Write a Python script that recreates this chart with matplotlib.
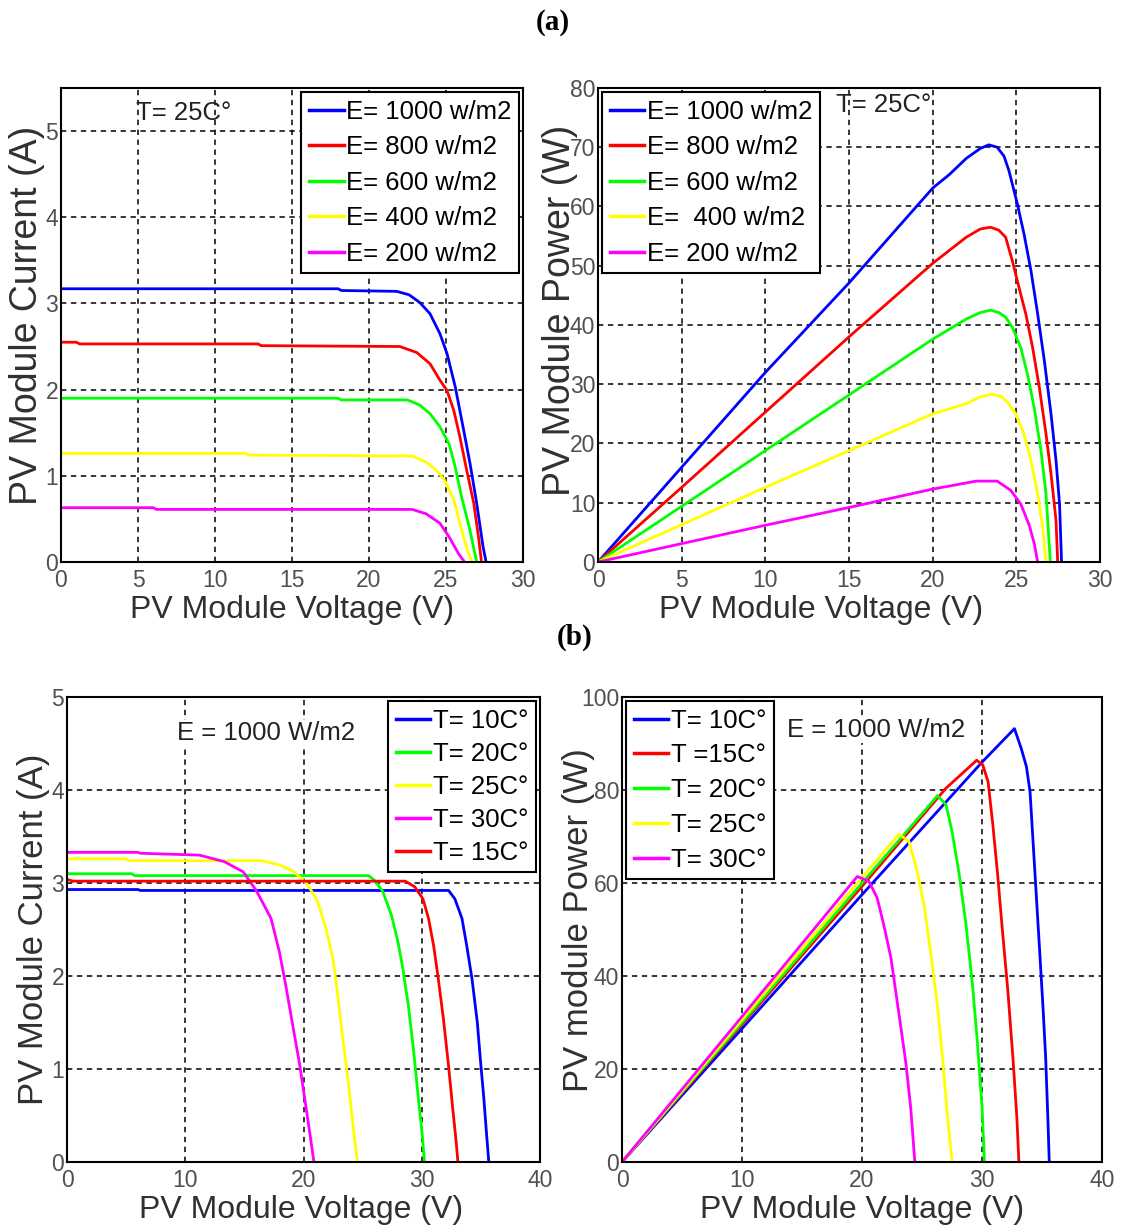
import matplotlib
matplotlib.use("Agg")
import matplotlib.pyplot as plt

plt.rcParams['font.family'] = ['Liberation Sans', 'DejaVu Sans']

# ---- (a) I-V at T = 25C, varying irradiance ----
iv_v_1000 = [0, 18.0, 18.2, 21.8, 22.6, 23.3, 23.96, 24.6, 25.06, 25.6, 26.1, 26.56, 26.99, 27.4, 27.6]
iv_i_1000 = [3.17, 3.17, 3.15, 3.14, 3.10, 3.01, 2.88, 2.65, 2.42, 2.03, 1.57, 1.14, 0.68, 0.18, 0.0]
iv_v_800 = [0, 1.0, 1.2, 12.8, 13.0, 22.0, 23.1, 23.96, 24.6, 25.06, 25.5, 25.9, 26.3, 26.8, 27.1, 27.3]
iv_i_800 = [2.55, 2.55, 2.53, 2.53, 2.51, 2.50, 2.43, 2.30, 2.11, 1.99, 1.76, 1.45, 1.10, 0.68, 0.30, 0.0]
iv_v_600 = [0, 18.0, 18.2, 22.5, 23.3, 23.96, 24.6, 25.2, 25.6, 26.0, 26.5, 26.99]
iv_i_600 = [1.90, 1.90, 1.88, 1.88, 1.82, 1.72, 1.57, 1.37, 1.10, 0.76, 0.41, 0.0]
iv_v_400 = [0, 12.0, 12.2, 22.8, 23.7, 24.4, 24.9, 25.5, 25.9, 26.3, 26.7]
iv_i_400 = [1.26, 1.26, 1.24, 1.23, 1.16, 1.06, 0.95, 0.72, 0.45, 0.18, 0.0]
iv_v_200 = [0, 6.0, 6.2, 22.8, 23.7, 24.6, 25.2, 25.8, 26.2]
iv_i_200 = [0.63, 0.63, 0.61, 0.61, 0.56, 0.45, 0.29, 0.10, 0.0]

# ---- (a) P-V at T = 25C, varying irradiance ----
pv_v_1000 = [0, 5, 10, 15, 20, 21, 22, 22.85, 23.35, 23.85, 24.26, 24.56, 25.06, 25.46, 25.87, 26.27,
             26.67, 27.07, 27.37, 27.58, 27.7]
pv_p_1000 = [0, 16.0, 32.0, 47.1, 63.1, 65.4, 68.1, 69.8, 70.4, 70.0, 68.5, 66.0, 60.4, 55.3, 49.2, 41.9,
             34.0, 25.0, 17.1, 9.8, 0]
pv_v_800 = [0, 5, 10, 15, 20, 22, 22.85, 23.45, 23.95, 24.36, 24.76, 25.16, 25.56, 25.97, 26.37, 26.77,
            27.07, 27.37, 27.47]
pv_p_800 = [0, 12.6, 25.3, 38.0, 50.4, 54.8, 56.2, 56.5, 56.0, 54.8, 50.8, 46.3, 41.9, 36.2, 29.5, 21.6,
            14.9, 7.0, 0]
pv_v_600 = [0, 5, 10, 15, 20, 22, 22.85, 23.45, 23.95, 24.36, 24.76, 25.26, 25.66, 26.06, 26.47, 26.77, 27.03]
pv_p_600 = [0, 9.4, 18.8, 28.2, 37.6, 41.0, 42.1, 42.5, 42.1, 41.3, 39.6, 36.2, 31.7, 26.1, 18.8, 11.5, 0]
pv_v_400 = [0, 5, 10, 15, 20, 22, 22.85, 23.55, 24.05, 24.46, 24.96, 25.46, 25.87, 26.27, 26.57, 26.77]
pv_p_400 = [0, 6.3, 12.6, 18.8, 25.0, 26.7, 27.9, 28.3, 28.0, 27.0, 25.0, 21.6, 17.1, 11.5, 5.9, 0]
pv_v_200 = [0, 5, 10, 15, 20, 22.6, 23.85, 24.66, 25.26, 25.77, 26.07, 26.27]
pv_p_200 = [0, 3.1, 6.2, 9.2, 12.3, 13.65, 13.65, 12.1, 9.8, 6.2, 3.1, 0]

# ---- (b) I-V at E = 1000 W/m2, varying temperature ----
it_v_10 = [0, 6.0, 6.2, 32.27, 32.8, 33.4, 33.8, 34.25, 34.7, 34.96, 35.24, 35.5, 35.67]
it_i_10 = [2.93, 2.93, 2.92, 2.92, 2.83, 2.62, 2.33, 1.97, 1.50, 1.10, 0.70, 0.27, 0.0]
it_v_20 = [0, 5.5, 5.7, 25.5, 26.0, 26.7, 27.45, 28.0, 28.4, 28.87, 29.3, 29.7, 30.06, 30.23]
it_i_20 = [3.10, 3.10, 3.08, 3.08, 3.03, 2.91, 2.65, 2.36, 2.08, 1.68, 1.21, 0.70, 0.27, 0.0]
it_v_25 = [0, 5.0, 5.2, 16.4, 18.1, 19.2, 20.37, 21.2, 21.9, 22.5, 22.9, 23.3, 23.77, 24.2, 24.56]
it_i_25 = [3.26, 3.26, 3.24, 3.24, 3.19, 3.12, 2.98, 2.80, 2.51, 2.18, 1.79, 1.35, 0.88, 0.38, 0.0]
it_v_30 = [0, 6.0, 6.2, 11.2, 13.3, 14.9, 16.0, 17.25, 17.96, 18.5, 19.1, 19.66, 20.08, 20.5, 20.88]
it_i_30 = [3.33, 3.33, 3.32, 3.30, 3.23, 3.12, 2.92, 2.62, 2.26, 1.90, 1.46, 1.06, 0.70, 0.34, 0.0]
it_v_15 = [0, 0.5, 28.6, 29.4, 30.1, 30.57, 31.0, 31.4, 31.84, 32.27, 32.6, 32.9, 33.06]
it_i_15 = [3.04, 3.02, 3.02, 2.96, 2.83, 2.62, 2.33, 1.97, 1.53, 1.03, 0.60, 0.23, 0.0]

# ---- (b) P-V at E = 1000 W/m2, varying temperature ----
pt_v_10 = [0, 10, 20, 30, 32.7, 33.27, 33.7, 34.0, 34.25, 34.5, 34.8, 35.08, 35.3, 35.5, 35.6]
pt_p_10 = [0, 28.7, 57.5, 86.0, 93.2, 88.9, 85.0, 79.6, 68.9, 58.2, 45.4, 33.2, 22.5, 8.2, 0]
pt_v_15 = [0, 10, 20, 27.0, 29.55, 30.06, 30.5, 30.9, 31.3, 31.7, 32.15, 32.57, 32.9, 33.07]
pt_p_15 = [0, 29.6, 59.3, 80.4, 86.4, 85.4, 81.8, 72.5, 61.8, 49.7, 36.8, 22.5, 9.6, 0]
pt_v_20 = [0, 10, 20, 26.3, 27.0, 27.5, 28.1, 28.66, 29.2, 29.6, 30.0, 30.2]
pt_p_20 = [0, 30.0, 60.0, 78.8, 76.8, 71.1, 61.8, 51.1, 38.2, 26.1, 11.8, 0]
pt_v_25 = [0, 10, 20, 23.07, 23.9, 24.6, 25.2, 25.7, 26.3, 26.7, 27.1, 27.5]
pt_p_25 = [0, 30.6, 61.2, 70.5, 69.0, 62.5, 54.7, 45.4, 33.2, 22.5, 10.4, 0]
pt_v_30 = [0, 10, 19.6, 20.56, 21.26, 21.8, 22.4, 22.8, 23.2, 23.66, 24.05, 24.4]
pt_p_30 = [0, 31.3, 61.4, 60.4, 56.8, 51.1, 44.0, 36.8, 29.6, 21.1, 11.8, 0]

BLUE, RED, GREEN, YELLOW, MAGENTA = '#0000FF', '#FF0000', '#00FF00', '#FFFF00', '#FF00FF'
TICK_COLOR = '#505050'
LABEL_COLOR = '#303030'


def style_axes(ax, xlim, ylim, xticks, yticks):
    ax.set_xlim(*xlim)
    ax.set_ylim(*ylim)
    ax.set_xticks(xticks)
    ax.set_yticks(yticks)
    ax.grid(True, color='black', linestyle=(0, (3.5, 3)), linewidth=1.1)
    ax.set_axisbelow(True)
    ax.tick_params(axis='both', length=0, labelsize=16.5, labelcolor=TICK_COLOR)
    ax.tick_params(axis='x', pad=5)
    ax.tick_params(axis='y', pad=2)
    for sp in ax.spines.values():
        sp.set_linewidth(1.5)
        sp.set_color('black')


def add_legend(ax, loc, spacing):
    leg = ax.legend(loc=loc, fontsize=18.5, handlelength=1.35, handletextpad=0.1,
                    labelspacing=spacing, borderpad=0.3, borderaxespad=0.15,
                    fancybox=False, framealpha=1, edgecolor='black')
    leg.get_frame().set_linewidth(1.5)
    for line in leg.get_lines():
        line.set_linewidth(2.5)


fig = plt.figure(figsize=(11.21, 12.30), dpi=100)

ax1 = fig.add_axes([0.0544, 0.5431, 0.4122, 0.3854])
ax2 = fig.add_axes([0.5335, 0.5431, 0.4478, 0.3854])
ax3 = fig.add_axes([0.0598, 0.0553, 0.4219, 0.3780])
ax4 = fig.add_axes([0.5549, 0.0553, 0.4282, 0.3780])

lw = 2.0

# top-left: current vs voltage
ax1.plot(iv_v_1000, iv_i_1000, color=BLUE, lw=lw, label='E= 1000 w/m2')
ax1.plot(iv_v_800, iv_i_800, color=RED, lw=lw, label='E= 800 w/m2')
ax1.plot(iv_v_600, iv_i_600, color=GREEN, lw=lw, label='E= 600 w/m2')
ax1.plot(iv_v_400, iv_i_400, color=YELLOW, lw=lw, label='E= 400 w/m2')
ax1.plot(iv_v_200, iv_i_200, color=MAGENTA, lw=lw, label='E= 200 w/m2')
style_axes(ax1, (0, 30), (0, 5.5), range(0, 31, 5), range(0, 6))
add_legend(ax1, 'upper right', 0.45)
ax1.text(4.9, 5.21, 'T= 25C°', fontsize=18.5, color='#222222', va='center')
ax1.set_xlabel('PV Module Voltage (V)', fontsize=23, color=LABEL_COLOR)
ax1.set_ylabel('PV Module Current (A)', fontsize=27, color=LABEL_COLOR)
ax1.xaxis.set_label_coords(0.5, -0.07)
ax1.yaxis.set_label_coords(-0.035, 0.52)

# top-right: power vs voltage
ax2.plot(pv_v_1000, pv_p_1000, color=BLUE, lw=lw, label='E= 1000 w/m2')
ax2.plot(pv_v_800, pv_p_800, color=RED, lw=lw, label='E= 800 w/m2')
ax2.plot(pv_v_600, pv_p_600, color=GREEN, lw=lw, label='E= 600 w/m2')
ax2.plot(pv_v_400, pv_p_400, color=YELLOW, lw=lw, label='E=  400 w/m2')
ax2.plot(pv_v_200, pv_p_200, color=MAGENTA, lw=lw, label='E= 200 w/m2')
style_axes(ax2, (0, 30), (0, 80), range(0, 31, 5), range(0, 81, 10))
add_legend(ax2, 'upper left', 0.45)
ax2.text(14.2, 77.1, 'T= 25C°', fontsize=18.5, color='#222222', va='center')
ax2.set_xlabel('PV Module Voltage (V)', fontsize=23, color=LABEL_COLOR)
ax2.set_ylabel('PV Module Power (W)', fontsize=27, color=LABEL_COLOR)
ax2.xaxis.set_label_coords(0.444, -0.07)
ax2.yaxis.set_label_coords(-0.04, 0.53)

# bottom-left: current vs voltage at several temperatures
ax3.plot(it_v_10, it_i_10, color=BLUE, lw=lw, label='T= 10C°')
ax3.plot(it_v_20, it_i_20, color=GREEN, lw=lw, label='T= 20C°')
ax3.plot(it_v_25, it_i_25, color=YELLOW, lw=lw, label='T= 25C°')
ax3.plot(it_v_30, it_i_30, color=MAGENTA, lw=lw, label='T= 30C°')
ax3.plot(it_v_15, it_i_15, color=RED, lw=lw, label='T= 15C°')
style_axes(ax3, (0, 40), (0, 5), range(0, 41, 10), range(0, 6))
add_legend(ax3, 'upper right', 0.35)
ax3.text(9.3, 4.61, 'E = 1000 W/m2', fontsize=18.5, color='#222222', va='center',
         bbox=dict(facecolor='white', edgecolor='none', pad=1))
ax3.set_xlabel('PV Module Voltage (V)', fontsize=23, color=LABEL_COLOR)
ax3.set_ylabel('PV Module Current (A)', fontsize=25, color=LABEL_COLOR)
ax3.xaxis.set_label_coords(0.495, -0.07)
ax3.yaxis.set_label_coords(-0.036, 0.5)

# bottom-right: power vs voltage at several temperatures
ax4.plot(pt_v_10, pt_p_10, color=BLUE, lw=lw, label='T= 10C°')
ax4.plot(pt_v_15, pt_p_15, color=RED, lw=lw, label='T =15C°')
ax4.plot(pt_v_20, pt_p_20, color=GREEN, lw=lw, label='T= 20C°')
ax4.plot(pt_v_25, pt_p_25, color=YELLOW, lw=lw, label='T= 25C°')
ax4.plot(pt_v_30, pt_p_30, color=MAGENTA, lw=lw, label='T= 30C°')
style_axes(ax4, (0, 40), (0, 100), range(0, 41, 10), range(0, 101, 20))
add_legend(ax4, 'upper left', 0.42)
ax4.text(13.75, 92.9, 'E = 1000 W/m2', fontsize=18.5, color='#222222', va='center',
         bbox=dict(facecolor='white', edgecolor='none', pad=1))
ax4.set_xlabel('PV Module Voltage (V)', fontsize=23, color=LABEL_COLOR)
ax4.set_ylabel('PV module Power (W)', fontsize=25, color=LABEL_COLOR)
ax4.xaxis.set_label_coords(0.5, -0.07)
ax4.yaxis.set_label_coords(-0.056, 0.52)

fig.text(553 / 1121, 1 - 22 / 1230, '(a)', ha='center', va='center', fontsize=21,
         fontweight='bold', family=['Liberation Serif', 'DejaVu Serif'])
fig.text(575 / 1121, 1 - 637 / 1230, '(b)', ha='center', va='center', fontsize=21,
         fontweight='bold', family=['Liberation Serif', 'DejaVu Serif'])

fig.savefig('out.png', dpi=100)
